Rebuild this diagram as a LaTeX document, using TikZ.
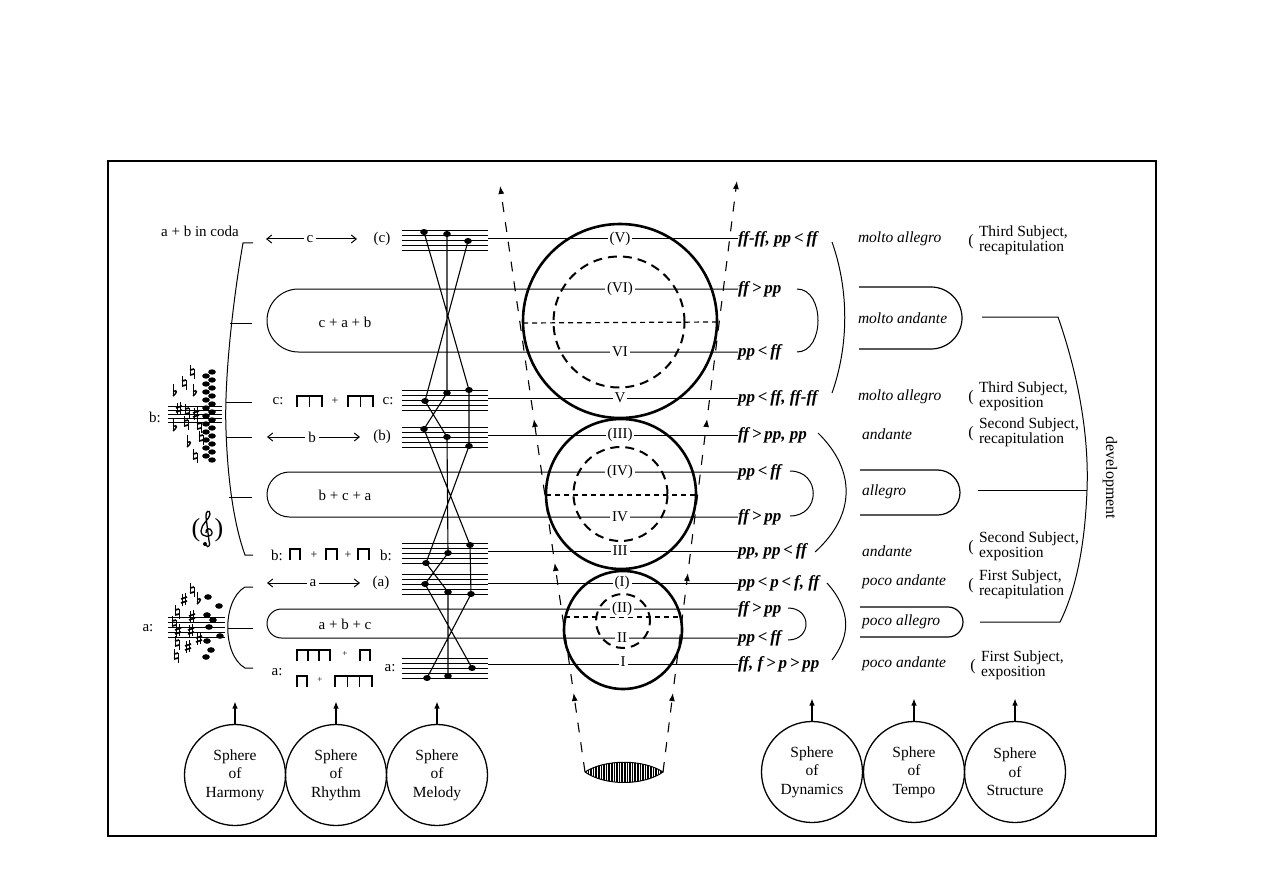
\documentclass[tikz,border=0pt]{standalone}
\usepackage{fontspec}
\setmainfont{Liberation Serif}
\usetikzlibrary{arrows.meta}
\newcommand{\rbeam}[4]{% #1 top y, #2 first x, #3 last x, #4 number of stems
  \draw[line width=2.6pt] ({#2-0.7},#1) -- ({#3+0.7},#1);
  \pgfmathtruncatemacro\nn{#4-1}
  \foreach \i in {0,...,\nn} {\draw[line width=1.4pt] ({#2+\i*(#3-#2)/\nn},#1) -- ++(0,11);}}
\newcommand{\hp}[1]{\,#1\,}
% hand-drawn accidentals (y axis points down)
\newcommand{\sharpg}[1]{\begin{scope}[shift={#1}]
  \draw[line width=0.8pt] (-1.5,-6) -- (-1.5,6) (1.5,-7) -- (1.5,5);
  \draw[line width=1.7pt] (-3,-1) -- (3,-3) (-3,3) -- (3,1);\end{scope}}
\newcommand{\flatg}[1]{\begin{scope}[shift={#1}]
  \draw[line width=0.9pt] (-2,-8) -- (-2,4);
  \draw[line width=1.4pt] (-2,4) .. controls (2,1) and (3,-3) .. (-2,-0.5);\end{scope}}
\newcommand{\natg}[1]{\begin{scope}[shift={#1}]
  \draw[line width=0.9pt] (-2,-7) -- (-2,3) (2,-3) -- (2,7);
  \draw[line width=1.7pt] (-2,3) -- (2,2) (-2,-2) -- (2,-3);\end{scope}}
\begin{document}
\begin{tikzpicture}[x=1pt,y=-1pt,
  every node/.style={inner sep=0pt, outer sep=0pt, font=\fontsize{15}{15}\selectfont},
  rowl/.style={line width=1pt},
  lab/.style={fill=white, inner xsep=2pt, inner ysep=1pt},
  dyn/.style={anchor=west, font=\fontsize{17}{17}\selectfont\bfseries\itshape},
  tempo/.style={anchor=west, font=\fontsize{15.5}{15}\selectfont\itshape},
  struct/.style={anchor=west, align=left, font=\fontsize{15.5}{15}\selectfont},
  paren/.style={font=\fontsize{16}{16}\selectfont},
  bigc/.style={line width=2.6pt},
  innerc/.style={line width=2pt, dash pattern=on 9pt off 6pt},
  diam/.style={line width=1.2pt, dash pattern=on 5pt off 4pt},
  funnel/.style={line width=1.1pt, dash pattern=on 10pt off 10pt, -{Latex[length=8pt,width=6pt]}},
  sphere/.style={circle, draw, line width=1.3pt, minimum size=101pt, align=center, font=\fontsize{15.5}{18.5}\selectfont},
  uparrow/.style={line width=1.2pt, -{Latex[length=7pt,width=5.5pt]}},
  staffl/.style={line width=0.8pt},
  mel/.style={line width=1.1pt},
  thinb/.style={line width=1pt},
  rarrow/.style={line width=1pt, {Straight Barb[length=5pt,width=8pt]}-{Straight Barb[length=5pt,width=8pt]}},
]
\useasboundingbox (0,0) rectangle (1263,893);
\fill[white] (0,0) rectangle (1263,893);
% frame
\draw[line width=1.3pt] (108,161) rectangle (1156,836);

% ---------- dynamics nodes ----------
\node[dyn] (d1) at (738,239) {ff-ff, pp\hp{<}ff};
\node[dyn] (d2) at (738,289) {ff\hp{>}pp};
\node[dyn] (d3) at (738,352) {pp\hp{<}ff};
\node[dyn] (d4) at (738,398) {pp\hp{<}ff, ff-ff};
\node[dyn] (d5) at (738,435) {ff\hp{>}pp, pp};
\node[dyn] (d6) at (738,472) {pp\hp{<}ff};
\node[dyn] (d7) at (738,517) {ff\hp{>}pp};
\node[dyn] (d8) at (738,551) {pp, pp\hp{<}ff};
\node[dyn] (d9) at (738,583) {pp\hp{<}p\hp{<}f, ff};
\node[dyn] (d10) at (738,609) {ff\hp{>}pp};
\node[dyn] (d11) at (738,638) {pp\hp{<}ff};
\node[dyn] (d12) at (738,664) {ff, f\hp{>}p\hp{>}pp};

% stave exit coordinates
\coordinate (s1) at (488,239);
\coordinate (s4) at (488,398);
\coordinate (s5) at (488,435);
\coordinate (s8) at (488,551);
\coordinate (s9) at (488,583);
\coordinate (s12) at (488,664);

% row lines
\draw[rowl] (s1) -- (d1.west);
\draw[rowl] (s4) -- (d4.west);
\draw[rowl] (s5) -- (d5.west);
\draw[rowl] (s8) -- (d8.west);
\draw[rowl] (s9) -- (d9.west);
\draw[rowl] (s12) -- (d12.west);
% left pills
\draw[rowl, rounded corners=31.5pt] (d2.west) -- (267,289) -- (267,352) -- (d3.west);
\draw[rowl, rounded corners=22.5pt] (d6.west) -- (267,472) -- (267,517) -- (d7.west);
\draw[rowl, rounded corners=14.5pt] (d10.west) -- (267,609) -- (267,638) -- (d11.west);
\node (p1) at (345,322) {c + a + b};
\node (p2) at (345,495) {b + c + a};
\node (p3) at (345,624) {a + b + c};

% ---------- circles ----------
\draw[bigc] (620,321) circle (97pt);
\draw[innerc] (619,322) circle (65.5pt);
\draw[diam] (523,323) -- (717,322);
\draw[bigc] (621,494) circle (75pt);
\draw[innerc] (620.5,494) circle (47pt);
\draw[diam] (546,495) -- (696,495);
\draw[bigc] (623,630) circle (59pt);
\draw[innerc] (623,621) circle (27pt);
\draw[diam] (565,617) -- (681,617);

% row labels in circles
\node[lab] (l1) at (620,239) {(V)};
\node[lab] (l2) at (620,289) {(VI)};
\node[lab] (l3) at (620,352) {VI};
\node[lab] (l4) at (620,398) {V};
\node[lab] (l5) at (620,435) {(III)};
\node[lab] (l6) at (620,472) {(IV)};
\node[lab] (l7) at (620,517) {IV};
\node[lab] (l8) at (620,551) {III};
\node[lab] (l9) at (622,583) {(I)};
\node[lab] (l10) at (622,609) {(II)};
\node[lab] (l11) at (622,638) {II};
\node[lab] (l12) at (623,662) {I};

% ---------- funnel ----------
\coordinate (L0) at (585,772);
\coordinate (L1) at (573.6,693);
\coordinate (L1s) at (572.3,684);
\coordinate (L2) at (554.7,563);
\coordinate (L2s) at (553.4,554);
\coordinate (L3) at (533.9,419);
\coordinate (L3s) at (532.6,410);
\coordinate (L4) at (500.1,186);
\coordinate (R0) at (663,772);
\coordinate (R1) at (672.9,693);
\coordinate (R1s) at (674.0,684);
\coordinate (R2) at (687.9,573);
\coordinate (R2s) at (689.0,564);
\coordinate (R3) at (707.1,419);
\coordinate (R3s) at (708.2,410);
\coordinate (R4) at (736.9,181);
\draw[funnel] (L0) -- (L1);
\draw[funnel] (L1s) -- (L2);
\draw[funnel] (L2s) -- (L3);
\draw[funnel] (L3s) -- (L4);
\draw[funnel] (R0) -- (R1);
\draw[funnel] (R1s) -- (R2);
\draw[funnel] (R2s) -- (R3);
\draw[funnel] (R3s) -- (R4);
% lens
\begin{scope}
  \clip (L0) .. controls (605,759) and (643,759) .. (R0) .. controls (643,786) and (605,786) .. (L0);
  \fill[black] (583,755) rectangle (665,790);
  \foreach \xx in {587,589.6,...,662} {\draw[white, line width=0.7pt] (\xx,755) -- (\xx,790);}
\end{scope}
\draw[line width=1pt] (L0) .. controls (605,759) and (643,759) .. (R0) .. controls (643,786) and (605,786) .. (L0);

% ---------- right brackets ----------
\draw[thinb] (797,289) .. controls (825,289) and (825,352) .. (797,352);
\draw[thinb] (790,471) .. controls (821,471) and (821,516) .. (790,516);
\draw[thinb] (788,608) .. controls (812,608) and (812,640) .. (788,640);
\draw[thinb] (832,242) .. controls (849,290) and (849,345) .. (832,393);
\draw[thinb] (818,433) .. controls (856,470) and (856,515) .. (815,552);
\draw[thinb] (827,583) .. controls (851,610) and (851,635) .. (832,660);

% ---------- tempo ----------
\node[tempo] (t1) at (858,239) {molto allegro};
\node[tempo] (t2) at (858,318) {molto andante};
\node[tempo] (t3) at (858,397) {molto allegro};
\node[tempo] (t4) at (862,434) {andante};
\node[tempo] (t5) at (862,492) {allegro};
\node[tempo] (t6) at (862,551) {andante};
\node[tempo] (t7) at (862,582) {poco andante};
\node[tempo] (t8) at (862,622) {poco allegro};
\node[tempo] (t9) at (862,664) {poco andante};
\draw[line width=1.2pt, rounded corners=31pt] (859,287) -- (962,287) -- (962,349) -- (859,349);
\draw[line width=1.2pt, rounded corners=22.5pt] (860,470) -- (960,470) -- (960,515) -- (860,515);
\draw[line width=1.2pt, rounded corners=15pt] (860,607) -- (963,607) -- (963,637) -- (860,637);

% ---------- structure ----------
\node[struct] (st1) at (979,240) {Third Subject,\\recapitulation};
\node[struct] (st2) at (979,396) {Third Subject,\\exposition};
\node[struct] (st3) at (979,432) {Second Subject,\\recapitulation};
\node[struct] (st4) at (979,546) {Second Subject,\\exposition};
\node[struct] (st5) at (979,584) {First Subject,\\recapitulation};
\node[struct] (st6) at (981,665) {First Subject,\\exposition};
\node[paren] (q1) at (971,242) {(};
\node[paren] (q2) at (971,398) {(};
\node[paren] (q3) at (971,434) {(};
\node[paren] (q4) at (971,548) {(};
\node[paren] (q5) at (971,586) {(};
\node[paren] (q6) at (973,667) {(};
\draw[thinb] (982,317) -- (1058,317) .. controls (1080,380) and (1089,440) .. (1087,490) .. controls (1085,545) and (1076,590) .. (1060,622) -- (980,622);
\draw[thinb] (978,490) -- (1087,490);
\node[rotate=-90, font=\fontsize{16}{16}\selectfont] (dev) at (1110,478) {development};

% ---------- left: harmony brackets ----------
\node (coda) at (200,231) {a + b in coda};
\draw[thinb] (253,243) -- (243,243) .. controls (233,300) and (224,380) .. (226,430) .. controls (228,490) and (236,530) .. (245,555) -- (253,555);
\draw[thinb] (230,323) -- (252,323);
\draw[thinb] (226,402) -- (252,402);
\draw[thinb] (226,437) -- (252,437);
\draw[thinb] (229,497) -- (252,497);
\draw[thinb] (253,587) -- (245,587) .. controls (222,600) and (222,655) .. (245,668) -- (253,668);
\draw[thinb] (228,628) -- (253,628);
\node (bl) at (155,417) {b:};
\node (al) at (148,628) {a:};

% b chord cluster
\foreach \yy in {406,410,...,422} {\draw[staffl] (168,\yy) -- (222,\yy);}
\foreach \yy [count=\i] in {372,376,...,460} {\fill ({206+6*mod(\i,2)},\yy) ellipse (3.8pt and 2.7pt);}
\foreach \g/\xx/\yy in {flatg/175/392, natg/184/383, natg/192/372, flatg/195/392, sharpg/179/409, natg/187/411, sharpg/196/414, flatg/175/427, natg/199/426, natg/186/423, flatg/189/443, natg/195/456, natg/201/438}
  {\csname\g\endcsname{(\xx,\yy)}}
% a chord cluster
\foreach \yy in {617,622,...,637} {\draw[staffl] (168,\yy) -- (225,\yy);}
\foreach \xx/\yy in {208/597, 219/606, 207/615, 213/620, 209/627, 220/636, 207/641, 211/650, 206/657}
  {\fill (\xx,\yy) ellipse (3.8pt and 2.8pt);}
\foreach \g/\xx/\yy in {natg/192/590, sharpg/184/600, flatg/199/600, natg/177/612, sharpg/192/617, natg/174/623, sharpg/178/631, sharpg/191/631, sharpg/199/639, natg/177/643, sharpg/188/647, natg/176/656}
  {\csname\g\endcsname{(\xx,\yy)}}
% treble clef in parentheses
\node[font=\fontsize{26}{26}\selectfont] (cl1) at (196,530) {(};
\node[font=\fontsize{26}{26}\selectfont] (cl2) at (219,530) {)};
\begin{scope}[shift={(207,530)}]
  \draw[line width=1.3pt] (-1,15) .. controls (1,19) and (4,15) .. (2,11) -- (-1,-13)
    .. controls (-2,-19) and (3,-21) .. (3,-16)
    .. controls (3,-11) and (-6,-6) .. (-6,1)
    .. controls (-6,8) and (6,8) .. (5,2)
    .. controls (4,-3) and (-2,-2) .. (-1,3);
  \fill (-2,14) circle (2pt);
\end{scope}

% ---------- rhythm column ----------
\draw[rarrow] (266,239) -- (357,239);
\node[fill=white, inner xsep=3pt] (rc) at (310,239) {c};
\node (rc2) at (382,239) {(c)};
\draw[rarrow] (267,437) -- (360,437);
\node[fill=white, inner xsep=3pt] (rb) at (312,437) {b};
\node (rb2) at (382,437) {(b)};
\draw[rarrow] (267,583) -- (360,583);
\node[fill=white, inner xsep=3pt] (ra) at (313,583) {a};
\node (ra2) at (381,583) {(a)};
% c: row
\node (c1) at (278,401) {c:};
\rbeam{396}{297}{322}{3}
\node[font=\fontsize{12}{12}\selectfont] (cp) at (335,401) {+};
\rbeam{396}{348}{373}{3}
\node (c2) at (388,401) {c:};
% b: row
\node (b1) at (277,555) {b:};
\rbeam{549}{290}{300}{2}
\node[font=\fontsize{12}{12}\selectfont] (bp1) at (314,555) {+};
\rbeam{549}{326}{337}{2}
\node[font=\fontsize{12}{12}\selectfont] (bp2) at (348,555) {+};
\rbeam{549}{358}{369}{2}
\node (b2) at (386,555) {b:};
% a: row
\node (a1) at (277,672) {a:};
\rbeam{650}{297}{330}{4}
\node[font=\fontsize{9}{9}\selectfont] (ap1) at (345,654) {+};
\rbeam{650}{360}{370}{2}
\rbeam{676}{297}{307}{2}
\node[font=\fontsize{9}{9}\selectfont] (ap2) at (320,680) {+};
\rbeam{676}{335}{372}{4}
\node (a2) at (390,668) {a:};

% ---------- melody staves ----------
\foreach \b in {230,390,427,543,574,658} {\foreach \k in {0,...,4} {\draw[staffl] (402,\b+5*\k) -- (488,\b+5*\k);}}
\coordinate (A1) at (424,232); \coordinate (B1) at (447,234); \coordinate (C1) at (468,241);
\coordinate (A2) at (425,401); \coordinate (B2) at (447,393); \coordinate (C2) at (469,390);
\coordinate (A3) at (424,429); \coordinate (B3) at (447,437); \coordinate (C3) at (469,446);
\coordinate (A4) at (426,563); \coordinate (B4) at (448,553); \coordinate (C4) at (470,545);
\coordinate (A5) at (425,584); \coordinate (B5) at (448,592); \coordinate (C5) at (471,594);
\coordinate (A6) at (427,678); \coordinate (B6) at (448,676); \coordinate (C6) at (472,668);
\draw[mel] (B1) -- (B2) (A1) -- (C2) (C1) -- (A2);
\draw[mel] (A2) -- (B3) (B2) -- (A3) (C2) -- (C3);
\draw[mel] (A3) -- (C4) (C3) -- (A4) (B3) -- (B4);
\draw[mel] (A4) -- (B5) (B4) -- (A5) (C4) -- (C5);
\draw[mel] (A5) -- (C6) (C5) -- (A6) (B5) -- (B6);
\foreach \n in {A1,B1,C1,A2,B2,C2,A3,B3,C3,A4,B4,C4,A5,B5,C5,A6,B6,C6} {\fill (\n) ellipse (3.8pt and 3pt);}

% ---------- spheres ----------
\node[sphere] (harm) at (235,775) {Sphere\\of\\Harmony};
\node[sphere] (rhy) at (336,775) {Sphere\\of\\Rhythm};
\node[sphere] (mel) at (437,775) {Sphere\\of\\Melody};
\node[sphere] (dyn) at (812,772) {Sphere\\of\\Dynamics};
\node[sphere] (tem) at (914,772) {Sphere\\of\\Tempo};
\node[sphere] (str) at (1015,772) {Sphere\\of\\Structure};
\foreach \s in {harm,rhy,mel,dyn,tem,str} {\draw[uparrow] (\s.north) -- ++(0,-23);}
\end{tikzpicture}
\end{document}
